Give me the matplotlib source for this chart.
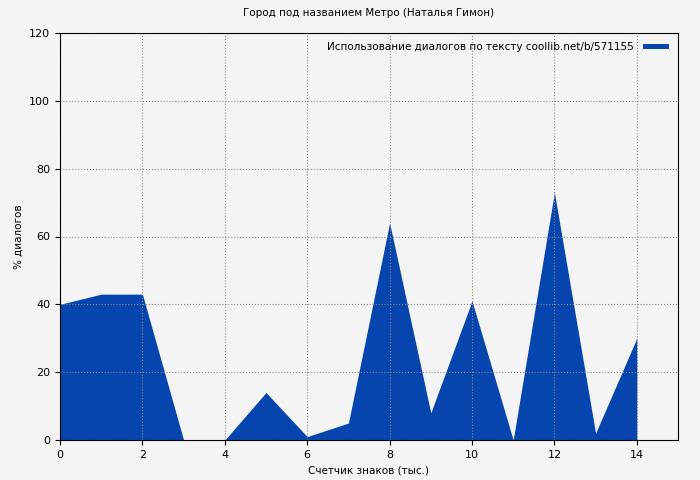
import matplotlib
matplotlib.use("Agg")
import matplotlib.pyplot as plt

x = list(range(15))
y = [40, 43, 43, 0, 0, 14, 1, 5, 64, 8, 41, 0, 73, 2, 30]
title = "Город под названием Метро (Наталья Гимон)"
label = "Использование диалогов по тексту coollib.net/b/571155"
color = "#0645ad"

fig = plt.figure(figsize=(7, 4.8), dpi=100, facecolor="#f4f4f4")
ax = fig.add_axes([60/700, 40/480, 618/700, 407/480])
ax.set_facecolor("#f4f4f4")
ax.fill_between(x, y, 0, color=color, linewidth=0, label=label)
ax.set_xlim(0, 15)
ax.set_ylim(0, 120)
ax.set_xticks(range(0, 15, 2))
ax.set_yticks(range(0, 121, 20))
ax.grid(True, color="#888888", linestyle=":", linewidth=0.8)
ax.tick_params(labelsize=8)
ax.set_title(title, fontsize=7.5, pad=12)
ax.set_xlabel("Счетчик знаков (тыс.)", fontsize=7.5)
ax.set_ylabel("% диалогов", fontsize=7.5)
ax.legend(loc="upper right", fontsize=7.5, frameon=False, markerfirst=False,
          handlelength=2.5, handleheight=0.3)
fig.savefig("out.png", dpi=100, facecolor=fig.get_facecolor())
